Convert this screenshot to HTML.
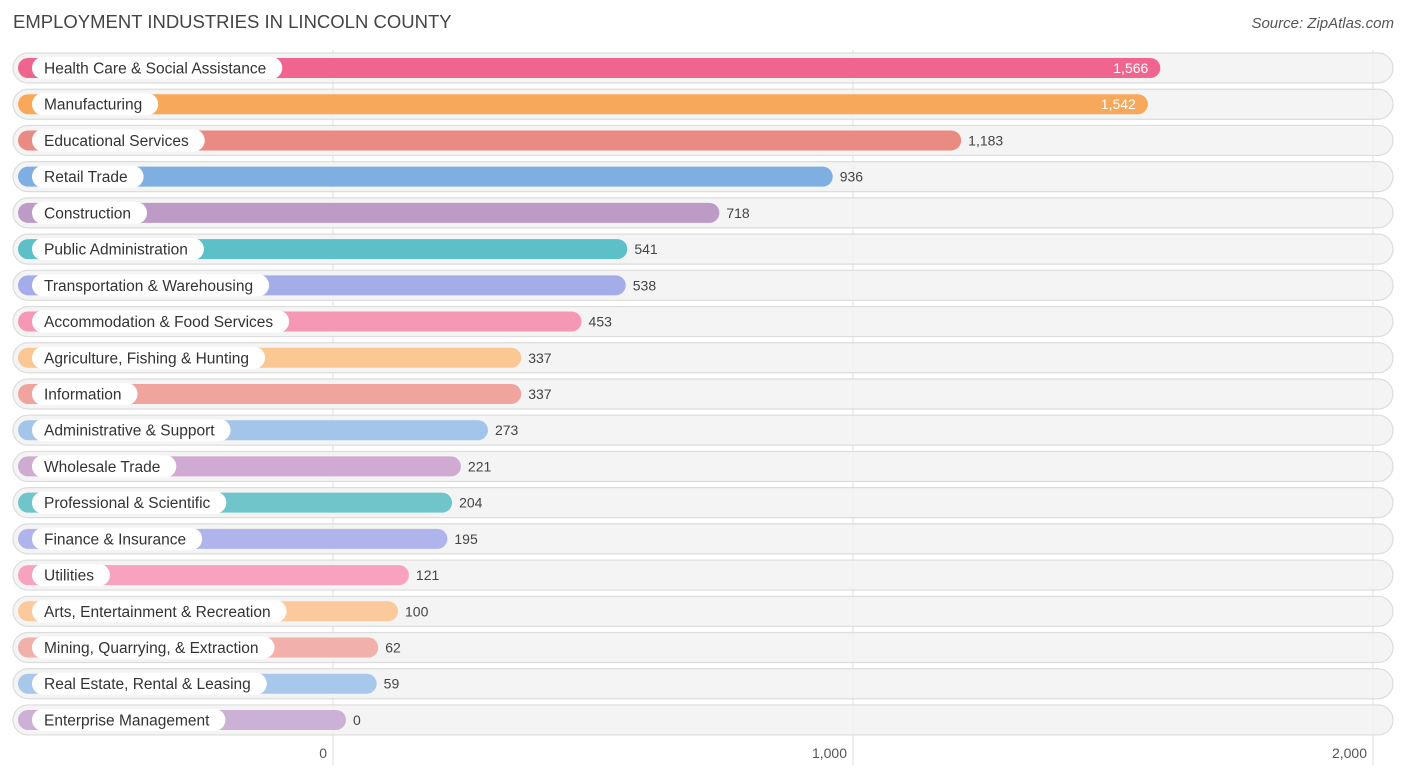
<!DOCTYPE html>
<html><head><meta charset="utf-8"><style>
body{margin:0;width:1406px;height:776px;background:#fff;font-family:"Liberation Sans",sans-serif;overflow:hidden;position:relative}
.title{position:absolute;left:13px;top:11px;font-size:18.5px;color:#444}
.src{position:absolute;right:12px;top:15px;font-size:15px;color:#555;font-style:italic}
</style></head><body>
<div class="title">EMPLOYMENT INDUSTRIES IN LINCOLN COUNTY</div>
<div class="src">Source: ZipAtlas.com</div>
<svg id="c" width="1406" height="776" style="position:absolute;left:0;top:0"></svg>
<script>
const categories=["Health Care & Social Assistance","Manufacturing","Educational Services","Retail Trade","Construction","Public Administration","Transportation & Warehousing","Accommodation & Food Services","Agriculture, Fishing & Hunting","Information","Administrative & Support","Wholesale Trade","Professional & Scientific","Finance & Insurance","Utilities","Arts, Entertainment & Recreation","Mining, Quarrying, & Extraction","Real Estate, Rental & Leasing","Enterprise Management"];
const values=[1566,1542,1183,936,718,541,538,453,337,337,273,221,204,195,121,100,62,59,0];
const colors=["#f06590","#f8a85a","#ea8b82","#7eaee2","#bd9bc7","#5dbfc7","#a5ade8","#f598b6","#fbc792","#f0a49e","#a2c5e9","#cfabd2","#70c5ca","#afb5ec","#f7a2bf","#fbc99c","#f1b0aa","#a7c7eb","#ccb0d5"];
const ticks=[0,1000,2000];
const tickLabels=["0","1,000","2,000"];
const NS="http://www.w3.org/2000/svg";
const svg=document.getElementById('c');
const x=v=>333+v*0.52;
const y=i=>68+i*36.22;
function mk(t,a,p){const e=document.createElementNS(NS,t);for(const k in a)e.setAttribute(k,a[k]);(p||svg).appendChild(e);return e;}
ticks.forEach((t,i)=>{
 const l=mk('line',{x1:x(t),x2:x(t),y1:50,y2:765,stroke:'#ddd','stroke-width':1});
 
 
 const tx=mk('text',{x:x(t)-6,y:758,'text-anchor':'end','font-size':14,fill:'#555'});
 tx.textContent=tickLabels[i];
 
 
});
categories.forEach((c,i)=>{
 const cy=y(i);
 const g=mk('g',{});
 
 
 mk('rect',{x:13,y:cy-15,width:1380,height:30,rx:15,fill:'#f3f3f3',stroke:'#dcdcdc','stroke-width':1.2,'fill-opacity':0.9},g);
 const end=x(values[i])+13;
 const b=mk('rect',{x:18,y:cy-10,width:end-18,height:20,rx:10,fill:colors[i]},g);
 
 
 const lt=mk('text',{x:44,y:cy+5.5,'font-size':15.5,fill:'#333'},g);
 lt.textContent=c;
 const w=lt.getComputedTextLength();
 const pill=mk('rect',{x:32,y:cy-11,width:w+28,height:22,rx:11,fill:'#fff'},g);
 g.insertBefore(pill,lt);
 
 
 const inside=values[i]>1400;
 const vt=mk('text',{x:inside?end-12:end+7,y:cy+5,'font-size':14,fill:inside?'#fff':'#444','text-anchor':inside?'end':'start'},g);
 vt.textContent=values[i].toLocaleString('en-US');
 
 
});
</script>
</body></html>
